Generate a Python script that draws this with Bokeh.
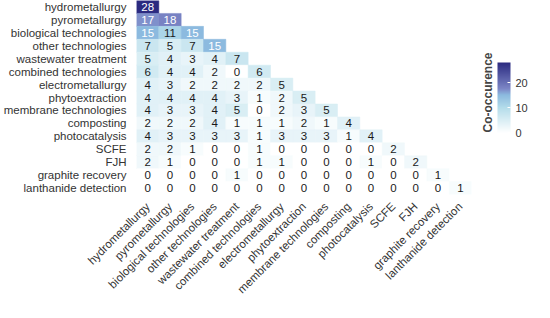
import numpy as np
from bokeh.plotting import figure
from bokeh.models import ColumnDataSource, LinearColorMapper, ColorBar, FixedTicker
from bokeh.transform import transform
from bokeh.embed import file_html
from bokeh.resources import INLINE
from bokeh.core.properties import value

techs = ["hydrometallurgy", "pyrometallurgy", "biological technologies",
         "other technologies", "wastewater treatment", "combined technologies",
         "electrometallurgy", "phytoextraction", "membrane technologies",
         "composting", "photocatalysis", "SCFE", "FJH", "graphite recovery",
         "lanthanide detection"]

row_hydrometallurgy = [28]
row_pyrometallurgy = [17, 18]
row_biological = [15, 11, 15]
row_other = [7, 5, 7, 15]
row_wastewater = [5, 4, 3, 4, 7]
row_combined = [6, 4, 4, 2, 0, 6]
row_electrometallurgy = [4, 3, 2, 2, 2, 2, 5]
row_phytoextraction = [4, 4, 4, 4, 3, 1, 2, 5]
row_membrane = [4, 3, 3, 4, 5, 0, 2, 3, 5]
row_composting = [2, 2, 2, 4, 1, 1, 1, 2, 1, 4]
row_photocatalysis = [4, 3, 3, 3, 3, 1, 3, 3, 3, 1, 4]
row_scfe = [2, 2, 1, 0, 0, 1, 0, 0, 0, 0, 0, 2]
row_fjh = [2, 1, 0, 0, 0, 1, 1, 0, 0, 0, 1, 0, 2]
row_graphite = [0, 0, 0, 0, 1, 0, 0, 0, 0, 0, 0, 0, 0, 1]
row_lanthanide = [0, 0, 0, 0, 0, 0, 0, 0, 0, 0, 0, 0, 0, 0, 1]

colorbar_ticks = [0, 10, 20]

rows = [row_hydrometallurgy, row_pyrometallurgy, row_biological, row_other,
        row_wastewater, row_combined, row_electrometallurgy, row_phytoextraction,
        row_membrane, row_composting, row_photocatalysis, row_scfe, row_fjh,
        row_graphite, row_lanthanide]

xs, ys, vs, labels, tcs = [], [], [], [], []
for i, r in enumerate(rows):
    for j, v in enumerate(r):
        xs.append(techs[j]); ys.append(techs[i]); vs.append(v)
        labels.append(str(v))
        tcs.append("white" if v > 12 else "#1a1a1a")
src = ColumnDataSource(dict(x=xs, y=ys, v=vs, label=labels, tc=tcs))

# palette (style): white -> light blue -> dark navy
anchors_v = [0, 10, 15, 17.5, 28]
anchors_c = [(255, 255, 255), (179, 220, 234), (140, 186, 223), (124, 134, 198), (43, 42, 128)]
vmax = max(vs)
steps = np.linspace(0, vmax, 281)
palette = []
for s in steps:
    c = [np.interp(s, anchors_v, [a[k] for a in anchors_c]) for k in range(3)]
    palette.append("#%02x%02x%02x" % tuple(int(round(x)) for x in c))
mapper = LinearColorMapper(palette=palette, low=0, high=vmax)

p = figure(x_range=techs, y_range=list(reversed(techs)), width=534, height=302,
           output_backend="svg", toolbar_location=None,
           min_border_left=117, min_border_top=0, min_border_right=0, min_border_bottom=0)
p.rect(x="x", y="y", width=1, height=1, source=src,
       fill_color=transform("v", mapper), line_color=transform("v", mapper), line_width=0.5)
p.text(x="x", y="y", text="label", source=src, text_align="center", text_baseline="middle",
       text_font=value("Liberation Sans"), text_font_size="11.5px", text_color="tc")

p.xaxis.major_label_orientation = np.pi / 4
for ax in p.axis:
    ax.major_tick_line_color = None
    ax.minor_tick_line_color = None
    ax.axis_line_color = None
    ax.major_label_text_font = "Liberation Sans"
    ax.major_label_text_font_size = "11.5px"
    ax.major_label_text_color = "#333333"
    ax.major_label_standoff = 4
p.grid.grid_line_color = None
p.outline_line_color = None

cb = ColorBar(color_mapper=mapper, ticker=FixedTicker(ticks=colorbar_ticks), width=13, height=70,
              title="Co-occurence", title_text_font_style="bold", title_text_font_size="12px",
              title_text_font="Liberation Sans", title_standoff=6,
              major_label_text_font="Liberation Sans", major_label_text_font_size="11px",
              major_label_text_color="#333333",
              major_tick_line_color="white", major_tick_in=3, major_tick_out=0,
              bar_line_color=None, label_standoff=5, padding=4, margin=10,
              location="center", background_fill_alpha=0, border_line_color=None)
p.add_layout(cb, "right")

open("out.html", "w").write(file_html(p, INLINE))
